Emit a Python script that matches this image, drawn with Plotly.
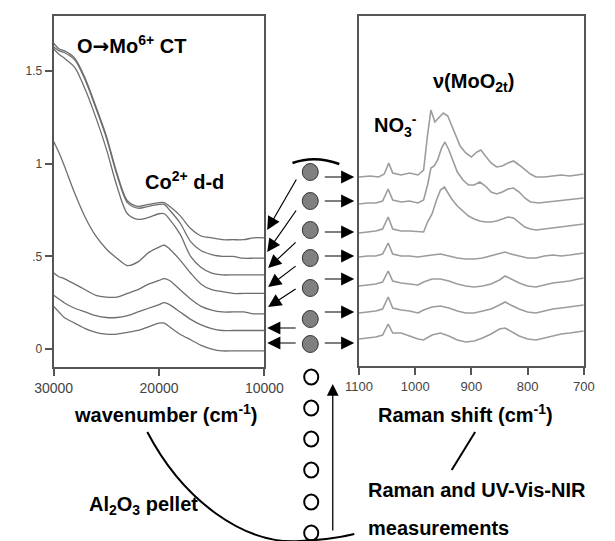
import plotly.graph_objects as go

W, H = 615, 541

# ---------------- data ----------------
uv_wavenumber = [30000, 29500, 29000, 28000, 27000, 26000, 25000, 24000, 23000, 22000, 21000,
                 20000, 19500, 19000, 18000, 17000, 16000, 15000, 14000, 13000, 12000, 11000, 10000]
uv_1 = [1.65, 1.62, 1.61, 1.57, 1.46, 1.31, 1.15, 0.95, 0.80, 0.77, 0.78, 0.79, 0.79, 0.77, 0.72, 0.65, 0.61, 0.60, 0.59, 0.59, 0.59, 0.60, 0.60]
uv_2 = [1.63, 1.61, 1.60, 1.56, 1.45, 1.30, 1.14, 0.94, 0.79, 0.76, 0.77, 0.78, 0.78, 0.75, 0.68, 0.58, 0.53, 0.51, 0.50, 0.50, 0.49, 0.49, 0.49]
uv_3 = [1.62, 1.59, 1.57, 1.52, 1.40, 1.25, 1.08, 0.88, 0.73, 0.70, 0.71, 0.73, 0.73, 0.70, 0.62, 0.50, 0.44, 0.41, 0.40, 0.40, 0.40, 0.40, 0.40]
uv_4 = [1.12, 1.06, 0.99, 0.84, 0.71, 0.61, 0.54, 0.49, 0.45, 0.47, 0.52, 0.55, 0.56, 0.54, 0.48, 0.41, 0.35, 0.32, 0.31, 0.30, 0.30, 0.30, 0.30]
uv_5 = [0.41, 0.39, 0.38, 0.35, 0.32, 0.29, 0.28, 0.28, 0.30, 0.32, 0.35, 0.37, 0.38, 0.37, 0.32, 0.27, 0.23, 0.21, 0.20, 0.20, 0.20, 0.19, 0.19]
uv_6 = [0.29, 0.27, 0.25, 0.22, 0.20, 0.18, 0.17, 0.17, 0.18, 0.20, 0.22, 0.24, 0.25, 0.24, 0.20, 0.16, 0.13, 0.11, 0.10, 0.10, 0.10, 0.10, 0.10]
uv_7 = [0.23, 0.20, 0.17, 0.14, 0.11, 0.09, 0.08, 0.08, 0.09, 0.10, 0.12, 0.14, 0.14, 0.12, 0.08, 0.05, 0.02, 0.00, -0.01, -0.01, -0.01, -0.01, -0.01]
uv_spectra = [uv_1, uv_2, uv_3, uv_4, uv_5, uv_6, uv_7]

uv_xticks = [30000, 20000, 10000]
uv_yticks = [0, 0.5, 1, 1.5]
uv_yticklabels = ["0", ".5", "1", "1.5"]

raman_shift_1 = [1100, 1080, 1065, 1055, 1047, 1040, 1025, 1010, 995, 985, 978, 972, 965, 958, 950, 942, 935, 928,
                 920, 910, 900, 890, 883, 875, 865, 855, 845, 835, 825, 815, 805, 795, 785, 770, 755, 740, 725, 710, 700]
raman_1 = [189, 190, 189, 192, 203, 193, 191, 193, 191, 196, 231, 256, 244, 248, 253, 250, 241, 231,
           220, 213, 209, 214, 216, 210, 203, 199, 200, 203, 205, 201, 196, 192, 189, 189, 190, 191, 190, 191, 192]

raman_shift_2 = [1100, 1085, 1070, 1058, 1048, 1040, 1025, 1010, 995, 985, 978, 972, 966, 960, 953, 947, 940, 932,
                 925, 915, 905, 895, 885, 875, 865, 855, 845, 835, 825, 815, 805, 795, 780, 765, 750, 735, 720, 705, 700]
raman_2 = [162, 163, 163, 165, 177, 166, 164, 165, 163, 166, 181, 198, 200, 206, 218, 224, 216, 204,
           194, 186, 181, 181, 184, 180, 174, 172, 174, 177, 178, 174, 168, 164, 163, 164, 165, 166, 167, 168, 168]

raman_shift_3 = [1100, 1085, 1070, 1058, 1048, 1040, 1025, 1010, 995, 985, 978, 970, 962, 955, 948, 942, 935, 925,
                 915, 905, 895, 885, 875, 865, 855, 845, 835, 825, 815, 805, 795, 785, 770, 755, 740, 725, 710, 700]
raman_3 = [133, 134, 135, 137, 149, 137, 135, 135, 134, 134, 144, 152, 166, 176, 179, 173, 167, 160,
           155, 150, 147, 145, 144, 144, 145, 147, 149, 148, 143, 139, 137, 136, 137, 138, 139, 140, 141, 142]

raman_shift_low = [1100, 1085, 1070, 1058, 1048, 1040, 1025, 1010, 995, 985, 970, 955, 940, 925, 910, 895,
                   880, 865, 850, 840, 830, 815, 800, 785, 770, 755, 740, 725, 710, 700]
raman_4 = [109, 110, 110, 112, 123, 112, 110, 110, 109, 110, 111, 112, 110, 108, 107, 107,
           108, 110, 112, 114, 112, 110, 108, 108, 110, 111, 110, 111, 112, 113]
raman_5 = [80, 81, 82, 84, 95, 85, 83, 82, 81, 84, 87, 87, 85, 82, 80, 79,
           80, 82, 86, 90, 87, 83, 80, 79, 81, 83, 84, 85, 87, 88]
raman_6 = [53, 54, 55, 57, 69, 58, 56, 55, 53, 56, 59, 60, 58, 55, 53, 53,
           55, 57, 61, 64, 61, 57, 54, 53, 55, 57, 58, 59, 60, 61]
raman_7 = [27, 28, 29, 31, 42, 33, 33, 30, 27, 26, 31, 33, 30, 26, 24, 25,
           28, 32, 37, 38, 35, 30, 27, 26, 28, 30, 32, 33, 34, 35]

raman_sets = [(raman_shift_1, raman_1), (raman_shift_2, raman_2), (raman_shift_3, raman_3),
              (raman_shift_low, raman_4), (raman_shift_low, raman_5), (raman_shift_low, raman_6),
              (raman_shift_low, raman_7)]
raman_xticks = [1100, 1000, 900, 800, 700]

# ---------------- figure ----------------
FONT = "Arial, Liberation Sans, Helvetica, sans-serif"
FRAME = "#555555"

def px(x):
    return x / W

def py(y):
    return 1 - y / H

fig = go.Figure()

for s in uv_spectra:
    fig.add_trace(go.Scatter(x=uv_wavenumber, y=s, mode="lines", xaxis="x", yaxis="y",
                             line=dict(color="#6e6e6e", width=1.3, shape="spline", smoothing=0.8),
                             showlegend=False, hoverinfo="skip"))

for sx, sy in raman_sets:
    fig.add_trace(go.Scatter(x=sx, y=sy, mode="lines", xaxis="x2", yaxis="y2",
                             line=dict(color="#9c9c9c", width=1.6),
                             showlegend=False, hoverinfo="skip"))

axis_common = dict(showline=True, linecolor=FRAME, linewidth=2, mirror=True,
                   showgrid=False, zeroline=False, ticks="outside", ticklen=7,
                   tickwidth=2, tickcolor=FRAME)

fig.update_layout(
    width=W, height=H, margin=dict(l=0, r=0, t=0, b=0),
    paper_bgcolor="white", plot_bgcolor="white",
    font=dict(family=FONT, color="black"),
    xaxis=dict(domain=[px(37), px(262)], range=[30000, 10000], anchor="y",
               tickvals=uv_xticks, ticktext=[str(v) for v in uv_xticks],
               tickfont=dict(size=14, color="#444"), **axis_common),
    yaxis=dict(domain=[py(367), py(16)], range=[-0.097, 1.797], anchor="x",
               tickvals=uv_yticks, ticktext=uv_yticklabels,
               tickfont=dict(size=12, color="#444"), **axis_common),
    xaxis2=dict(domain=[px(363), px(603)], range=[1100, 700], anchor="y2",
                tickvals=raman_xticks, ticktext=[str(v) for v in raman_xticks],
                tickfont=dict(size=13, color="#444"), **axis_common),
    yaxis2=dict(domain=[py(366), py(16)], range=[0, 350], anchor="x2",
                showline=True, linecolor=FRAME, linewidth=2, mirror=True,
                showgrid=False, zeroline=False, showticklabels=False, ticks=""),
)

shapes = []
# filled sample spots
for yc in [172, 201, 230, 258, 288, 319, 344]:
    r = 8.5
    shapes.append(dict(type="circle", xref="paper", yref="paper",
                       x0=px(311 - r), x1=px(311 + r), y0=py(yc + r), y1=py(yc - r),
                       fillcolor="#808080", line=dict(color="#333333", width=1)))
# open sample spots
for yc in [377, 408, 439, 470, 502, 533]:
    r = 7.5
    shapes.append(dict(type="circle", xref="paper", yref="paper",
                       x0=px(312 - r), x1=px(312 + r), y0=py(yc + r), y1=py(yc - r),
                       fillcolor="white", line=dict(color="black", width=2)))

def path(cmds):
    out = []
    for c in cmds:
        if isinstance(c, str):
            out.append(c)
        else:
            out.append(f"{px(c[0]):.5f},{py(c[1]):.5f}")
    return " ".join(out)

# big pellet arc
shapes.append(dict(type="path", xref="paper", yref="paper",
                   path=path(["M", (137, 432), "C", (175, 500), (240, 545), (300, 541),
                              "C", (325, 540), (345, 537), (358, 534)]),
                   line=dict(color="black", width=2)))
# top arc
shapes.append(dict(type="path", xref="paper", yref="paper",
                   path=path(["M", (292, 163), "Q", (316, 155), (342, 164)]),
                   line=dict(color="black", width=2.5)))
# line under Raman shift label
shapes.append(dict(type="line", xref="paper", yref="paper",
                   x0=px(487), y0=py(432), x1=px(462), y1=py(470),
                   line=dict(color="black", width=2)))
fig.update_layout(shapes=shapes)

ann = []
def arrow(tail, tip, width=1.2, size=2.2):
    ann.append(dict(x=px(tip[0]), y=py(tip[1]), xref="paper", yref="paper",
                    ax=tail[0] - tip[0], ay=tail[1] - tip[1], axref="pixel", ayref="pixel",
                    text="", showarrow=True, arrowhead=2, arrowsize=size, arrowwidth=width,
                    arrowcolor="black"))

for tail, tip in [((295, 178), (265, 230)), ((295, 209), (265, 252)), ((295, 241), (266, 268)),
                  ((295, 265), (266, 287)), ((295, 288), (266, 307)), ((295, 328), (265, 328)),
                  ((295, 343), (265, 343))]:
    arrow(tail, tip)
for yv in [177, 201, 232, 256, 279, 312, 343]:
    arrow((327, yv), (358, yv))
arrow((335, 532), (335, 384), width=1.3, size=1.8)

def label(text, x, y, size=20, xanchor="center"):
    ann.append(dict(x=px(x), y=py(y), xref="paper", yref="paper", text=text, showarrow=False,
                    xanchor=xanchor, yanchor="middle",
                    font=dict(family=FONT, size=size, color="black")))

label("<b>O<span style='font-family:DejaVu Sans'>→</span>Mo<sup>6+</sup> CT</b>", 60, 45, xanchor="left")
label("<b>Co<sup>2+</sup> d-d</b>", 132, 180, xanchor="left")
label("<b>ν(MoO<sub>2t</sub>)</b>", 440, 82, xanchor="left")
label("<b>NO<sub>3</sub><sup>-</sup></b>", 377, 125, xanchor="left")
label("<b>wavenumber (cm<sup>-1</sup>)</b>", 157, 413)
label("<b>Raman shift (cm<sup>-1</sup>)</b>", 477, 413)
label("<b>Al<sub>2</sub>O<sub>3</sub> pellet</b>", 73, 505, xanchor="left")
label("<b>Raman and UV-Vis-NIR</b>", 370, 490, xanchor="left")
label("<b>measurements</b>", 370, 528, xanchor="left")

fig.update_layout(annotations=ann)

fig.write_html("out.html")
